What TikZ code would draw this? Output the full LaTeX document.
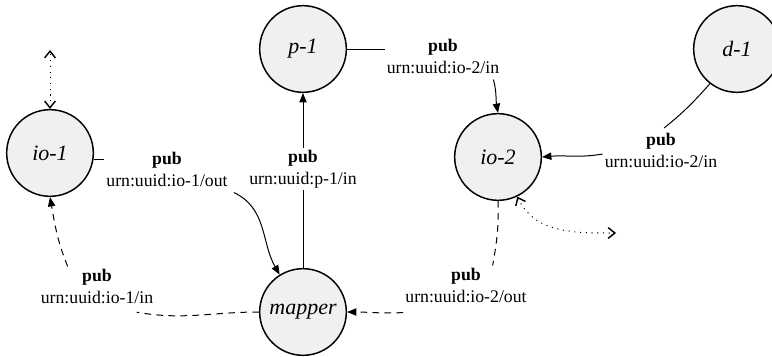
\documentclass[tikz,border=0pt]{standalone}
\usepackage{fontspec}
\setmainfont{Liberation Serif}
\usepackage{tikz}
\usetikzlibrary{positioning, arrows.meta}
\definecolor{nodefill}{HTML}{F0F0F0}

\begin{document}
\begin{tikzpicture}[x=0.75pt, y=0.75pt,
      nd/.style={circle, draw, line width=1.1pt, fill=nodefill,
        minimum size=65pt, inner sep=0pt,
        font=\fontsize{16.5}{18}\selectfont\itshape},
      lbl/.style={align=center, inner sep=1.5pt,
        font=\fontsize{13.3}{16.5}\selectfont},
      seg/.style={line width=0.75pt},
      arrow/.style={seg, -{Triangle[length=7pt, width=5.5pt]}},
      dsh/.style={dash pattern=on 5pt off 4pt},
      dotline/.style={line width=0.75pt, dash pattern=on 0.8pt off 3.5pt,
        {Straight Barb[length=5pt, width=8pt, line width=1.1pt]}-{Straight Barb[length=5pt, width=8pt, line width=1.1pt]}}]

    \useasboundingbox (0,0) rectangle (772,-357);

    \node[nd] (io1) at (50,-153) {io-1};
    \node[nd] (p1) at (303,-49) {p-1};
    \node[nd] (io2) at (498,-157) {io-2};
    \node[nd] (d1) at (737,-49) {d-1};
    \node[nd] (mapper) at (303,-312) {mapper};

    \node[lbl] (l1) at (167,-169) {\textbf{pub}\\urn:uuid:io-1/out};
    \node[lbl] (l2) at (303,-169) {\textbf{pub}\\urn:uuid:p-1/in};
    \node[lbl] (l3) at (443,-56) {\textbf{pub}\\urn:uuid:io-2/in};
    \node[lbl] (l4) at (661,-150) {\textbf{pub}\\urn:uuid:io-2/in};
    \node[lbl] (l5) at (466,-285) {\textbf{pub}\\urn:uuid:io-2/out};
    \node[lbl] (l6) at (97,-286) {\textbf{pub}\\urn:uuid:io-1/in};

    \coordinate (t1) at (50,-50);
    \coordinate (t2) at (616,-233);

    % io-1 -> mapper
    \draw[seg] (io1.-9) -- (io1.-9 -| l1.west);
    \draw[arrow] ([shift={(3pt,-3pt)}]l1.south east) to[out=-25, in=120] (mapper.122);

    % mapper -> p-1
    \draw[seg] (mapper) -- (l2);
    \draw[arrow] (l2) -- (p1);

    % p-1 -> io-2
    \draw[seg] (p1.east) -- (p1.east -| l3.west);
    \draw[arrow] ([shift={(-6pt,-3pt)}]l3.south east) to[out=-75, in=100] (io2.north);

    % d-1 -> io-2
    \draw[seg, shorten >=3pt] (d1.232) to[bend left=5] (l4.north);
    \draw[arrow] ([yshift=-3pt]l4.west) to[out=190, in=5] (io2.east);

    % io-2 -> mapper
    \draw[seg, dsh] (io2.south) to[out=-88, in=80] ([xshift=20pt]l5.north);
    \draw[arrow, dsh] ([yshift=-6pt]l5.south west) to[out=183, in=0] (mapper.east);

    % mapper -> io-1
    \draw[seg, dsh] (mapper.west) to[out=180, in=-10] ([shift={(-14pt,-5pt)}]l6.south east);
    \draw[arrow, dsh] ([xshift=-22pt]l6.north) to[out=112, in=-80] (io1.south);

    % dotted ends
    \draw[dotline] (io1.north) -- (t1);
    \draw[dotline] (io2.-64) to[out=-65, in=180] (t2);
  \end{tikzpicture}
\end{document}
